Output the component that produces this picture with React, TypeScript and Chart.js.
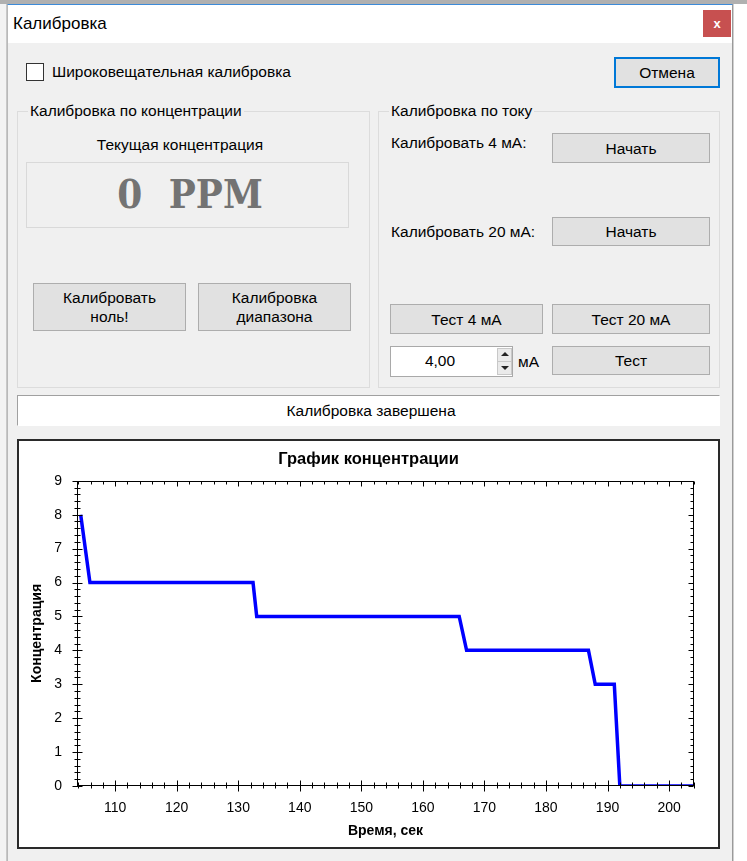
import React, { useEffect, useRef } from 'react';
import { Chart, registerables } from 'chart.js';

Chart.register(...registerables);

// ---- chart data ----
const TIME_SEC = [104.4, 105.9, 132.4, 133.0, 165.9, 167.1, 186.9, 188.0, 191.1, 192.0, 204.1];
const CONCENTRATION = [8, 6, 6, 5, 5, 4, 4, 3, 3, 0, 0];
const X_TICKS = [110, 120, 130, 140, 150, 160, 170, 180, 190, 200];
const Y_TICKS = [0, 1, 2, 3, 4, 5, 6, 7, 8, 9];
const X_MIN = 103.8;
const X_MAX = 204.05;
const Y_MIN = 0;
const Y_MAX = 9;
const X_MINOR_STEP = 2;
const Y_MINOR_STEP = 0.2;

const CHART_TITLE = 'График концентрации';
const X_TITLE = 'Время, сек';
const Y_TITLE = 'Концентрация';

const FONT = '"Liberation Sans", Arial, sans-serif';

const axisFramePlugin = {
  id: 'axisFrame',
  afterDraw(chart: any) {
    const { ctx, chartArea } = chart;
    const xs = chart.scales.x;
    const ys = chart.scales.y;
    const L = Math.round(chartArea.left) + 0.5;
    const R = Math.round(chartArea.right) - 0.5;
    const T = Math.round(chartArea.top) + 0.5;
    const B = Math.round(chartArea.bottom) - 0.5;
    ctx.save();
    ctx.strokeStyle = '#000';
    ctx.lineWidth = 1;
    ctx.strokeRect(L, T, R - L, B - T);
    ctx.beginPath();
    const i0 = Math.ceil(X_MIN / X_MINOR_STEP - 1e-9);
    for (let i = i0; i * X_MINOR_STEP <= X_MAX + 1e-9; i++) {
      const v = i * X_MINOR_STEP;
      const major = X_TICKS.indexOf(v) >= 0;
      const px = Math.round(xs.getPixelForValue(v)) + 0.5;
      const a = major ? 5 : 3;
      ctx.moveTo(px, B - a);
      ctx.lineTo(px, B + (major ? 6 : 3));
      ctx.moveTo(px, T);
      ctx.lineTo(px, T + a);
    }
    const n = Math.round((Y_MAX - Y_MIN) / Y_MINOR_STEP);
    for (let i = 0; i <= n; i++) {
      const v = Y_MIN + i * Y_MINOR_STEP;
      const major = Y_TICKS.indexOf(Math.round(v * 1000) / 1000) >= 0;
      const py = Math.round(ys.getPixelForValue(v)) + 0.5;
      const a = major ? 5 : 3;
      ctx.moveTo(L - (major ? 5 : 3), py);
      ctx.lineTo(L + a, py);
      ctx.moveTo(R, py);
      ctx.lineTo(R - a, py);
    }
    ctx.stroke();
    ctx.restore();
  },
};

function ConcentrationChart() {
  const ref = useRef<HTMLCanvasElement | null>(null);
  useEffect(() => {
    if (!ref.current) return;
    const points = TIME_SEC.map((t, i) => ({ x: t, y: CONCENTRATION[i] }));
    const chart = new Chart(ref.current, {
      type: 'line',
      data: {
        datasets: [
          {
            data: points,
            borderColor: '#0000ff',
            borderWidth: 3.5,
            pointRadius: 0,
            tension: 0,
            fill: false,
          },
        ],
      },
      options: {
        responsive: false,
        animation: false,
        devicePixelRatio: 1,
        layout: { padding: 0 },
        font: { family: FONT },
        plugins: {
          legend: { display: false },
          tooltip: { enabled: false },
          title: {
            display: true,
            text: CHART_TITLE,
            color: '#000',
            font: { family: FONT, size: 16.5, weight: 'bold' },
            padding: { top: 9, bottom: 11 },
          },
        },
        scales: {
          x: {
            type: 'linear',
            min: X_MIN,
            max: X_MAX,
            afterBuildTicks: (s: any) => {
              s.ticks = X_TICKS.map((v) => ({ value: v }));
            },
            afterFit: (s: any) => {
              s.height = 61;
            },
            grid: { display: false, drawTicks: false },
            border: { display: false },
            ticks: {
              padding: 13.5,
              color: '#000',
              font: { family: FONT, size: 14 },
              maxRotation: 0,
              autoSkip: false,
            },
            title: {
              display: true,
              text: X_TITLE,
              color: '#000',
              font: { family: FONT, size: 14, weight: 'bold' },
              padding: { top: 0, bottom: 7 },
            },
          },
          y: {
            type: 'linear',
            min: Y_MIN,
            max: Y_MAX,
            afterBuildTicks: (s: any) => {
              s.ticks = Y_TICKS.map((v) => ({ value: v }));
            },
            afterFit: (s: any) => {
              s.width = 58;
            },
            grid: { display: false, drawTicks: false },
            border: { display: false },
            ticks: {
              padding: 15,
              color: '#000',
              font: { family: FONT, size: 14 },
            },
            title: {
              display: true,
              text: Y_TITLE,
              color: '#000',
              font: { family: FONT, size: 14, weight: 'bold' },
              padding: { top: 10, bottom: 0 },
            },
          },
          yRight: {
            type: 'linear',
            position: 'right',
            display: true,
            grid: { display: false, drawTicks: false },
            border: { display: false },
            ticks: { display: false },
            afterFit: (s: any) => {
              s.width = 24;
            },
          },
        },
      } as any,
      plugins: [axisFramePlugin],
    });
    return () => chart.destroy();
  }, []);
  return <canvas ref={ref} width={699} height={406} style={{ display: 'block', width: 699, height: 406 }} />;
}

const abs = (x: number, y: number, w?: number, h?: number): React.CSSProperties => ({
  position: 'absolute',
  left: x,
  top: y,
  width: w,
  height: h,
  boxSizing: 'border-box',
});

function Btn({ x, y, w, h, def, children }: any) {
  return (
    <div
      style={{
        ...abs(x, y, w, h),
        background: '#e1e1e1',
        border: def ? '2px solid #0078d7' : '1px solid #adadad',
        display: 'flex',
        alignItems: 'center',
        justifyContent: 'center',
        textAlign: 'center',
        lineHeight: '19px',
      }}
    >
      {children}
    </div>
  );
}

function Text({ x, cy, children, center, size }: any) {
  const style: React.CSSProperties = {
    position: 'absolute',
    top: cy - 10,
    height: 20,
    lineHeight: '20px',
    whiteSpace: 'nowrap',
  };
  if (size) style.fontSize = size;
  if (center) {
    style.left = x - 200;
    style.width = 400;
    style.textAlign = 'center';
  } else {
    style.left = x;
  }
  return <div style={style}>{children}</div>;
}

function Group({ x, y, w, h, title }: any) {
  return (
    <>
      <div style={{ ...abs(x, y, w, h), border: '1px solid #dcdcdc' }} />
      <div
        style={{
          position: 'absolute',
          left: x + 11,
          top: y - 10,
          height: 20,
          lineHeight: '20px',
          padding: '0 2px',
          background: '#f0f0f0',
          whiteSpace: 'nowrap',
        }}
      >
        {title}
      </div>
    </>
  );
}

export default function App() {
  return (
    <div
      style={{
        position: 'absolute',
        left: 0,
        top: 0,
        width: 747,
        height: 861,
        overflow: 'hidden',
        background: '#ffffff',
        fontFamily: FONT,
        fontSize: 15.5,
        color: '#000',
      }}
    >
      {/* surroundings */}
      <div style={{ ...abs(0, 0, 747, 4), background: '#b0b0b0' }} />
      <div style={{ ...abs(0, 4, 7, 857), background: '#f3f3f3' }} />
      <div style={{ ...abs(6, 4, 1, 857), background: '#c8c8c8' }} />
      <div style={{ ...abs(733, 4, 1, 857), background: '#d0d0d0' }} />

      {/* window */}
      <div style={{ ...abs(7, 4, 726, 857), background: '#f0f0f0', borderTop: '1px solid #3c8ad8', borderLeft: '1px solid #b9b9b9', borderRight: '1px solid #9a9a9a' }} />
      <div style={{ ...abs(8, 5, 724, 38), background: '#ffffff' }} />
      <Text x={13} cy={24} size={17}>Калибровка</Text>
      <div
        style={{
          ...abs(703, 10, 28, 27),
          background: '#c75050',
          color: '#fff',
          fontWeight: 'bold',
          fontSize: 13,
          display: 'flex',
          alignItems: 'center',
          justifyContent: 'center',
        }}
      >
        x
      </div>

      {/* top row */}
      <div style={{ ...abs(26, 63, 18, 18), background: '#fff', border: '1px solid #333' }} />
      <Text x={52} cy={72}>Широковещательная калибровка</Text>
      <Btn x={614} y={57} w={106} h={31} def>
        Отмена
      </Btn>

      {/* group 1 */}
      <Group x={17} y={111} w={353} h={277} title="Калибровка по концентрации" />
      <Text x={180} cy={145} center>
        Текущая концентрация
      </Text>
      <div style={{ ...abs(26, 162, 323, 66), border: '1px solid #d9d9d9', background: '#f0f0f0' }} />
      <div
        style={{
          position: 'absolute',
          left: 26,
          width: 328,
          top: 166,
          height: 56,
          lineHeight: '56px',
          textAlign: 'center',
          fontFamily: '"DejaVu Serif Condensed", "DejaVu Serif", serif',
          fontStretch: 'condensed',
          fontWeight: 'bold',
          fontSize: 40,
          color: '#737373',
          wordSpacing: 14,
          whiteSpace: 'pre',
        }}
      >
        0 PPM
      </div>
      <Btn x={33} y={283} w={153} h={48}>
        Калибровать
        <br />
        ноль!
      </Btn>
      <Btn x={198} y={283} w={153} h={48}>
        Калибровка
        <br />
        диапазона
      </Btn>

      {/* group 2 */}
      <Group x={378} y={111} w={342} h={277} title="Калибровка по току" />
      <Text x={391} cy={143}>Калибровать 4 мА:</Text>
      <Btn x={552} y={133} w={158} h={30}>
        Начать
      </Btn>
      <Text x={391} cy={232}>Калибровать 20 мА:</Text>
      <Btn x={552} y={217} w={158} h={29}>
        Начать
      </Btn>
      <Btn x={390} y={304} w={153} h={30}>
        Тест 4 мА
      </Btn>
      <Btn x={552} y={304} w={158} h={30}>
        Тест 20 мА
      </Btn>
      {/* numeric up-down */}
      <div style={{ ...abs(390, 346, 123, 31), background: '#fff', border: '1px solid #a9a9a9' }} />
      <Text x={440} cy={361} center>
        4,00
      </Text>
      <div style={{ ...abs(497, 348, 15, 14), background: '#eaeaea', border: '1px solid #c8c8c8' }} />
      <div style={{ ...abs(497, 361, 15, 14), background: '#eaeaea', border: '1px solid #c8c8c8' }} />
      <div style={{ position: 'absolute', left: 501, top: 352, width: 0, height: 0, borderLeft: '4px solid transparent', borderRight: '4px solid transparent', borderBottom: '4px solid #222' }} />
      <div style={{ position: 'absolute', left: 501, top: 366, width: 0, height: 0, borderLeft: '4px solid transparent', borderRight: '4px solid transparent', borderTop: '4px solid #222' }} />
      <Text x={518} cy={362}>мА</Text>
      <Btn x={552} y={346} w={158} h={29}>
        Тест
      </Btn>

      {/* status */}
      <div
        style={{
          ...abs(17, 395, 703, 31),
          background: '#fff',
          borderTop: '1px solid #a0a0a0',
          borderLeft: '1px solid #a0a0a0',
          borderRight: '1px solid #ffffff',
          borderBottom: '1px solid #ffffff',
        }}
      />
      <Text x={371} cy={411} center>
        Калибровка завершена
      </Text>

      {/* chart */}
      <div style={{ ...abs(17, 439, 703, 410), border: '2px solid #2a2a2a', background: '#fff' }}>
        <ConcentrationChart />
      </div>
    </div>
  );
}
